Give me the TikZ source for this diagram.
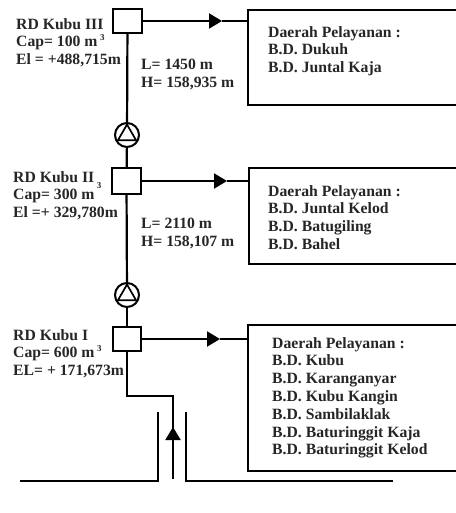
\documentclass[tikz,border=0pt]{standalone}
\usepackage{fontspec}
\setmainfont{Liberation Serif}
\usepackage{tikz}
\usetikzlibrary{arrows,arrows.meta,positioning,calc,shapes.geometric}

\newcommand{\tinythree}[1]{\hspace{2.5pt}\smash{\raisebox{#1}{\fontsize{9}{9}\selectfont 3}}}

\tikzset{
    tank/.style={draw,line width=2.4pt,fill=white,inner sep=0pt},
    zone/.style={draw,line width=2.4pt,fill=white,inner sep=0pt},
    pump/.style={draw,circle,line width=2pt,fill=white,minimum size=24pt,inner sep=0pt},
    pumptri/.style={draw,regular polygon,regular polygon sides=3,line width=1.7pt,minimum size=21pt,inner sep=0pt},
    lbl/.style={align=left,anchor=north west,inner sep=0pt,font=\bfseries\fontsize{15.7}{17.8}\selectfont,text=black!85},
    pipe/.style={line width=2.2pt},
    flow/.style={line width=2.2pt,-{Triangle[length=13pt,width=15pt]}}
}

\begin{document}
\begin{tikzpicture}[x=1pt,y=-1pt]
        \useasboundingbox (0,0) rectangle (455,513);

        %%%% Tanks and zones =============================
        \node[tank,minimum width=29pt,minimum height=24pt] (tank3) at (127.5,21) {};
        \node[tank,minimum width=29pt,minimum height=26pt] (tank2) at (126.5,181) {};
        \node[tank,minimum width=28pt,minimum height=24pt] (tank1) at (127,339) {};

        \node[zone,minimum width=214pt,minimum height=95pt] (zone3) at (355,57.5) {};
        \node[zone,minimum width=213pt,minimum height=96pt] (zone2) at (355.5,216) {};
        \node[zone,minimum width=214pt,minimum height=146pt] (zone1) at (355,398) {};

        % Pumps
        \node[pump] (pump3) at (127,135) {};
        \node[pumptri] (tri3) at (127,135) {};
        \node[pump] (pump2) at (127,295) {};
        \node[pumptri] (tri2) at (127,295) {};

        % Free ends
        \coordinate (bend1) at (127,396);
        \coordinate (bend2) at (173,396);
        \coordinate (well) at (173,479);
        \coordinate (wellmid) at (173,427);
        \coordinate (mid3) at (222,21);
        \coordinate (mid2) at (227,181);
        \coordinate (mid1) at (220,339);
        \coordinate (walll) at (158,412);
        \coordinate (wallr) at (186,412);
        \coordinate (footl) at (158,481);
        \coordinate (footr) at (186,481);
        \coordinate (groundl) at (20,481);
        \coordinate (groundr) at (393,481);

        % Pipes
        \draw[pipe] (tank3) -- (pump3);
        \draw[pipe] (pump3) -- (tank2);
        \draw[pipe] (tank2) -- (pump2);
        \draw[pipe] (pump2) -- (tank1);
        \draw[pipe] (tank1) -- (bend1) -- (bend2) -- (well);
        \draw[flow] (tank3.east |- mid3) -- (mid3);
        \draw[flow] (tank2.east |- mid2) -- (mid2);
        \draw[flow] (tank1.east |- mid1) -- (mid1);
        \draw[pipe] (mid3) -- (zone3.west |- mid3);
        \draw[pipe] (mid2) -- (zone2.west |- mid2);
        \draw[pipe] (mid1) -- (zone1.west |- mid1);
        \draw[flow] (well) -- (wellmid);
        \draw[pipe] (walll) -- (footl) -- (groundl);
        \draw[pipe] (wallr) -- (footr) -- (groundr);

        % Labels
        \node[lbl] (name3) at (16,18) {RD Kubu III\\Cap= 100 m\tinythree{6pt}\\El = +488,715m};
        \node[lbl] (name2) at (13,171) {RD Kubu II\tinythree{-6pt}\\Cap= 300 m\\El =+ 329,780m};
        \node[lbl] (name1) at (13,329) {RD Kubu I\\Cap= 600 m\tinythree{6pt}\\EL= + 171,673m};
        \node[lbl] (pipe3) at (141,59) {L= 1450 m\\H= 158,935 m};
        \node[lbl] (pipe2) at (141,218) {L= 2110 m\\H= 158,107 m};
        \node[lbl] (list3) at (268,26) {Daerah Pelayanan :\\B.D. Dukuh\\B.D. Juntal Kaja};
        \node[lbl] (list2) at (268,185) {Daerah Pelayanan :\\B.D. Juntal Kelod\\B.D. Batugiling\\B.D. Bahel};
        \node[lbl] (list1) at (272,337) {Daerah Pelayanan :\\B.D. Kubu\\B.D. Karanganyar\\B.D. Kubu Kangin\\B.D. Sambilaklak\\B.D. Baturinggit Kaja\\B.D. Baturinggit Kelod};
    \end{tikzpicture}
\end{document}
